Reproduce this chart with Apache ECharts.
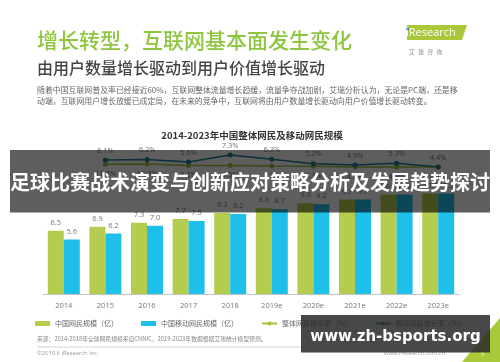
<!DOCTYPE html>
<html><head><meta charset="utf-8">
<script src="https://cdn.jsdelivr.net/npm/echarts@6/dist/echarts.min.js"></script>
<style>html,body{margin:0;padding:0;background:#fff}#c{width:500px;height:362px}</style>
</head><body><div id="c"></div>
<script>
const categories = ['2014','2015','2016','2017','2018','2019e','2020e','2021e','2022e','2023e'];
const netizens = [6.5, 6.9, 7.3, 7.7, 8.3, 8.8, 9.3, 9.7, 10.2, 10.3];
const mobileNetizens = [5.6, 6.2, 7.0, 7.5, 8.2, 8.7, 9.2, 9.7, 10.2, 10.3];
const netizenGrowth = [null, 11.3, 12.2, 8.2, 8.5, 7.2, 6.3, 4.5, 4.2, 4.3];
const mobileGrowth = [null, 6.1, 6.2, 5.6, 7.3, 6.3, 5.2, 4.9, 5.3, 4.4];
const seriesNames = ['中国网民规模（亿）', '中国移动网民规模（亿）', '整体网民增长率（%）', '移动网民增长率（%）'];

const CJK = '"Noto Sans CJK SC", sans-serif';
const GREEN = '#b4cd4e', BLUE = '#1ec0ea', GLINE = '#a2c13e', BLINE = '#1f8092';

const chart = echarts.init(document.getElementById('c'), null, {renderer: 'canvas'});
chart.setOption({
  backgroundColor: '#ffffff',
  animation: false,
  textStyle: {fontFamily: CJK},
  grid: {left: 43, right: 41, top: 147.75, bottom: 68, containLabel: false},
  xAxis: {
    type: 'category', data: categories,
    axisLine: {lineStyle: {color: '#c4c4c4', width: 1}},
    axisTick: {show: false},
    axisLabel: {color: '#777', fontSize: 7.5, margin: 8, fontFamily: 'Open Sans, sans-serif'}
  },
  yAxis: [
    {type: 'value', min: 0, max: 15, show: false},
    {type: 'value', min: -330, max: 55, show: false},
    {type: 'value', min: -26.5, max: 9.07, show: false}
  ],
  legend: {
    left: 'center', top: 315, itemGap: 23, itemWidth: 15, itemHeight: 5,
    textStyle: {color: '#666', fontSize: 7, fontFamily: CJK},
    data: [
      {name: seriesNames[0], icon: 'rect'},
      {name: seriesNames[1], icon: 'rect'},
      {name: seriesNames[2]},
      {name: seriesNames[3]}
    ]
  },
  series: [
    {
      name: seriesNames[0], type: 'bar', data: netizens, yAxisIndex: 0,
      barWidth: 16, barGap: '0%', itemStyle: {color: GREEN},
      label: {show: true, position: 'top', distance: 4, color: '#777', fontSize: 7.5,
        fontFamily: 'Open Sans, sans-serif', formatter: p => p.value.toFixed(1)}
    },
    {
      name: seriesNames[1], type: 'bar', data: mobileNetizens, yAxisIndex: 0,
      barWidth: 16, barGap: '0%', itemStyle: {color: BLUE},
      label: {show: true, position: 'top', distance: 4, color: '#777', fontSize: 7.5,
        fontFamily: 'Open Sans, sans-serif', formatter: p => p.value.toFixed(1)}
    },
    {
      name: seriesNames[2], type: 'line', data: netizenGrowth, yAxisIndex: 1,
      symbol: 'circle', symbolSize: 5, lineStyle: {color: GLINE, width: 1.5},
      itemStyle: {color: GLINE},
      label: {show: true, position: 'bottom', distance: 3, color: '#777', fontSize: 7.5,
        fontFamily: 'Open Sans, sans-serif', formatter: p => p.value.toFixed(1) + '%'}
    },
    {
      name: seriesNames[3], type: 'line', data: mobileGrowth, yAxisIndex: 2,
      symbol: 'circle', symbolSize: 5, lineStyle: {color: BLINE, width: 1.5},
      itemStyle: {color: BLINE},
      label: {show: true, position: 'top', distance: 3, color: '#777', fontSize: 7.5,
        fontFamily: 'Open Sans, sans-serif', formatter: p => p.value.toFixed(1) + '%'}
    }
  ],
  graphic: [
    {type: 'text', x: 37, y: 40, style: {text: '增长转型，互联网基本面发生变化', font: '500 21px ' + CJK, fill: '#8dc63f', textVerticalAlign: 'middle'}},
    {type: 'text', x: 37, y: 68, style: {text: '由用户数量增长驱动到用户价值增长驱动', font: '500 16px ' + CJK, fill: '#444', textVerticalAlign: 'middle'}},
    {type: 'text', x: 37, y: 89.5, style: {text: '随着中国互联网普及率已经接近60%，互联网整体流量增长趋缓，流量争夺战加剧，艾瑞分析认为，无论是PC端，还是移', font: '7.9px ' + CJK, fill: '#666', textVerticalAlign: 'middle'}},
    {type: 'text', x: 37, y: 100.5, style: {text: '动端，互联网用户增长放缓已成定局，在未来的竞争中，互联网将由用户数量增长驱动向用户价值增长驱动转变。', font: '7.9px ' + CJK, fill: '#666', textVerticalAlign: 'middle'}},
    {type: 'polygon', shape: {points: [[407, 25], [467, 25], [462, 40], [407, 40]]}, style: {fill: '#a9c93a'}},
    {type: 'circle', shape: {cx: 407.5, cy: 29, r: 1.3}, style: {fill: '#1a6aa0'}},
    {type: 'text', x: 406, y: 33, style: {text: 'iResearch', font: '11px "Open Sans", sans-serif', fill: '#fff', textVerticalAlign: 'middle'}},
    {type: 'text', x: 409, y: 51.5, style: {text: '艾   瑞   咨   询', font: '5.5px ' + CJK, fill: '#888', textVerticalAlign: 'middle'}},
    {type: 'text', x: 252, y: 135, style: {text: '2014-2023年中国整体网民及移动网民规模', font: 'bold 9.5px ' + CJK, fill: '#333', textAlign: 'center', textVerticalAlign: 'middle'}},
    {type: 'text', x: 37, y: 339, style: {text: '来源：2014-2018年全球网民规模来自CNNIC，2019-2023年数据根据艾瑞统计模型预测。', font: '5.8px ' + CJK, fill: '#888', textVerticalAlign: 'middle'}},
    {type: 'line', shape: {x1: 37, y1: 347, x2: 462, y2: 347}, style: {stroke: '#c8c8c8', lineWidth: 0.8}},
    {type: 'text', x: 37, y: 353, style: {text: '©2019.6 iResearch Inc.', font: '5.8px "Open Sans", sans-serif', fill: '#999', textVerticalAlign: 'middle'}},
    {type: 'text', x: 445, y: 353, style: {text: 'www.iresearch.com.cn', font: '5.8px "Open Sans", sans-serif', fill: '#999', textAlign: 'right', textVerticalAlign: 'middle'}},
    {type: 'polygon', shape: {points: [[462, 362], [500, 362], [500, 318]]}, style: {fill: '#a9c93a'}},
    {type: 'text', x: 481, y: 354, style: {text: '5', font: '6px "Open Sans", sans-serif', fill: '#fff', textVerticalAlign: 'middle'}},
    {type: 'rect', z: 100, shape: {x: 10, y: 150, width: 480, height: 62.5}, style: {fill: 'rgba(0,0,0,0.63)'}},
    {type: 'text', z: 101, x: 250, y: 182, style: {text: '足球比赛战术演变与创新应对策略分析及发展趋势探讨', font: 'bold 20px ' + CJK, fill: '#fff', textAlign: 'center', textVerticalAlign: 'middle'}},
    {type: 'rect', z: 100, shape: {x: 301, y: 315, width: 189, height: 37.5}, style: {fill: 'rgba(40,40,40,0.85)'}},
    {type: 'text', z: 101, x: 395.5, y: 337, style: {text: 'www.zh-bsports.org', font: 'bold 15px "DejaVu Sans", sans-serif', fill: '#fff', textAlign: 'center', textVerticalAlign: 'middle'}}
  ]
});
</script></body></html>
